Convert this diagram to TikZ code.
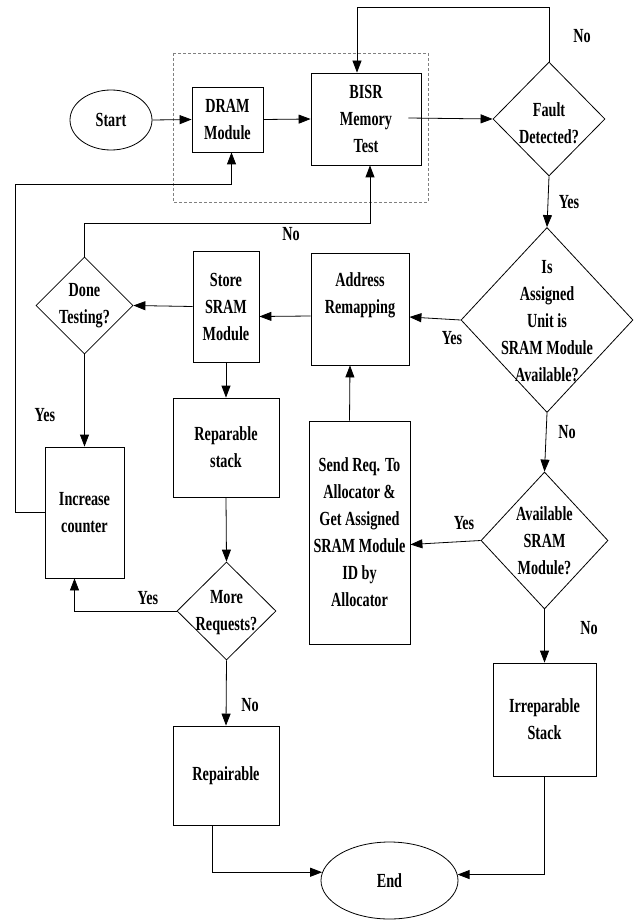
\documentclass[tikz,border=0pt]{standalone}
\usepackage{fontspec}
\setmainfont{Liberation Serif}[FakeStretch=0.71]
\usetikzlibrary{shapes.geometric,arrows.meta,calc}
\begin{document}
\begin{tikzpicture}[x=1pt,y=-1pt,
 every node/.style={font=\fontsize{20}{27}\selectfont\bfseries, align=center, inner sep=0pt},
 box/.style={draw, line width=0.8pt, rectangle},
 dia/.style={draw, diamond, line width=0.8pt},
 ell/.style={draw, ellipse, line width=0.8pt},
 arr/.style={line width=0.8pt, -{Triangle[length=12pt,width=9pt]}}]
\useasboundingbox (0,0) rectangle (634,920);
% dashed group frame
\draw[gray, line width=0.6pt, dash pattern=on 3pt off 2pt] (173,53) rectangle (428,202);
% nodes
\node[ell, minimum width=82pt, minimum height=60pt] (start) at (111,120) {Start};
\node[box, minimum width=71pt, minimum height=65pt] (dram) at (227.5,119.5) {DRAM\\Module};
\node[box, minimum width=110pt, minimum height=92pt] (bisr) at (366,119) {BISR\\Memory\\Test};
\node[dia, minimum width=112pt, minimum height=114pt] (fault) at (549,119) {};
\node (tfault) at (549,123) {Fault\\Detected?};
\node[dia, minimum width=172pt, minimum height=185pt] (is) at (547,320) {};
\node (tis) at (547,321) {Is\\Assigned\\Unit is\\SRAM Module\\Available?};
\node[box, minimum width=98pt, minimum height=112pt] (addr) at (360,309) {};
\node (taddr) at (360,295) {Address\\Remapping};
\node[box, minimum width=66pt, minimum height=111pt] (store) at (226,306.5) {Store\\SRAM\\Module};
\node[dia, minimum width=97pt, minimum height=97pt] (done) at (84.5,305.5) {};
\node (tdone) at (84.5,306) {Done\\Testing?};
\node[box, minimum width=79pt, minimum height=131pt] (counter) at (84.5,512.5) {Increase\\counter};
\node[box, minimum width=106pt, minimum height=99pt] (rep) at (226,447.5) {Reparable\\stack};
\node[dia, minimum width=99pt, minimum height=98pt] (more) at (226.5,611) {};
\node (tmore) at (226.5,613) {More\\Requests?};
\node[box, minimum width=106pt, minimum height=99pt] (repair) at (226,775.5) {Repairable};
\node[ell, minimum width=137pt, minimum height=77pt] (end) at (389.5,880.5) {End};
\node[box, minimum width=103pt, minimum height=113pt] (irr) at (544.5,719.5) {Irreparable\\Stack};
\node[dia, minimum width=127pt, minimum height=137pt] (avail) at (544.5,540.5) {};
\node (tavail) at (544.5,541) {Available\\SRAM\\Module?};
\node[box, minimum width=101pt, minimum height=223pt] (send) at (359.5,532.5) {Send Req. To\\Allocator \&\\Get Assigned\\SRAM Module\\ID by\\Allocator};
% labels
\node (l1) at (582,36) {No};
\node (l2) at (569,202) {Yes};
\node (l3) at (291,234) {No};
\node (l4) at (452,338) {Yes};
\node (l5) at (567,432) {No};
\node (l6) at (464,523) {Yes};
\node (l7) at (589,628) {No};
\node (l8) at (45,415) {Yes};
\node (l9) at (148,598) {Yes};
\node (l10) at (250,705) {No};
% connectors
\draw[arr] (start.east) -- (dram.west);
\draw[arr] (dram.east) -- (bisr.west);
\draw[arr] ($(bisr.east)+(-13,-1)$) -- (fault.west);
\draw[arr] (fault.north) -- ($(fault.north)+(0,-54)$) -| ($(bisr.north)+(-9,0)$);
\draw[arr] (fault.south) -- (is.north);
\draw[arr] (is.west) -- ($(addr.east)+(0,8)$);
\draw[arr] ($(addr.west)+(0,7)$) -- ($(store.east)+(0,10)$);
\draw[arr] (store.west) -- (done.east);
\draw[arr] (done.north) -- ++(0,-33) -| ($(bisr.south)+(4,0)$);
\draw[arr] (done.south) -- (counter.north);
\draw[arr] (counter.west) -- ++(-29,0) |- ($(dram.south)+(4,32)$) -- ($(dram.south)+(4,0)$);
\draw[arr] (store.south) -- (rep.north);
\draw[arr] (rep.south) -- (more.north);
\draw[arr] (more.west) -| ($(counter.south)+(-10,0)$);
\draw[arr] (more.south) -- (repair.north);
\draw[arr] ($(repair.south)+(-14,0)$) |- (end.173);
\draw[arr] (irr.south) |- (end.5);
\draw[arr] (is.south) -- (avail.north);
\draw[arr] (avail.south) -- (irr.north);
\draw[arr] (avail.west) -- ($(send.east)+(0,12)$);
\draw[arr] ($(send.north)+(-10,0)$) -- ($(addr.south)+(-10,0)$);
\end{tikzpicture}
\end{document}
